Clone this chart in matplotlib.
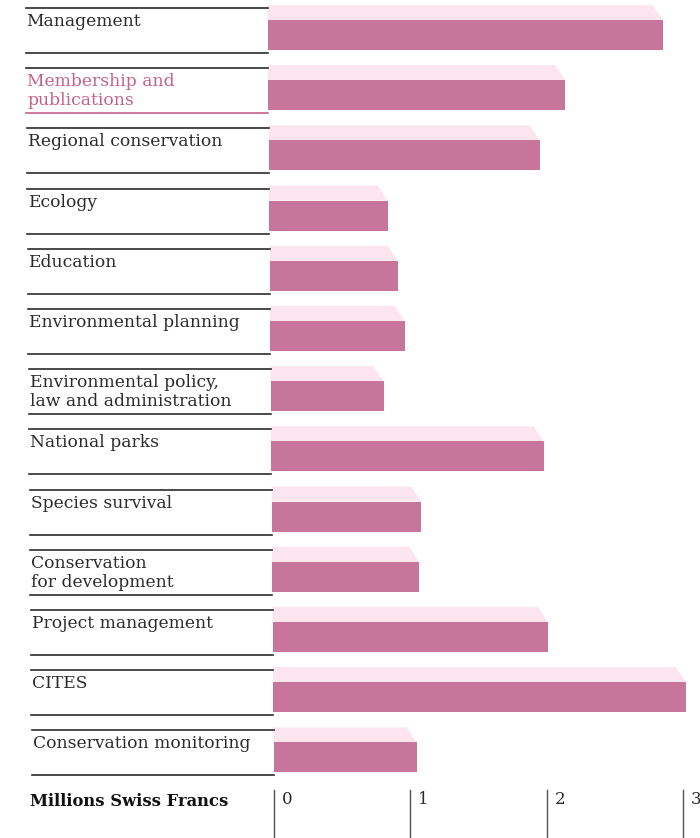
import matplotlib
matplotlib.use("Agg")
import matplotlib.pyplot as plt
from matplotlib.patches import Polygon

# IUCN programme budget by component
categories = [
    "Management",
    "Membership and\npublications",
    "Regional conservation",
    "Ecology",
    "Education",
    "Environmental planning",
    "Environmental policy,\nlaw and administration",
    "National parks",
    "Species survival",
    "Conservation\nfor development",
    "Project management",
    "CITES",
    "Conservation monitoring",
]
values = [2.90, 2.18, 1.99, 0.87, 0.94, 0.99, 0.83, 2.00, 1.10, 1.08, 2.02, 3.03, 1.05]
ticks = [0, 1, 2, 3]
highlight = "Membership and\npublications"

dark = "#c7759a"
light = "#fce5ee"
pink_text = "#c4628a"
ink = "#2b2b2b"

W, H = 700, 838
x0, scale = 274, 136.3        # pixel position of zero and pixels per million
px = 1.0 / scale
lean = 0.0083                 # the page sits slightly askew: x drifts with y

fig = plt.figure(figsize=(W / 100, H / 100), dpi=100)
ax = fig.add_axes([0, 0, 1, 1])
ax.set_xlim(-x0 / scale, (W - x0) / scale)
ax.set_ylim(H, 0)
ax.axis("off")

row_top = [8 + 60.2 * i for i in range(len(categories))]
offsets = [(t - 790) * lean * px for t in row_top]

# dark bars
centers = [t + 27 for t in row_top]
ax.barh(centers, values, height=30, left=offsets, color=dark, zorder=2)

for cat, v, t, off in zip(categories, values, row_top, offsets):
    # pale top face of each bar
    face = Polygon([(off, t + 12), (off + v, t + 12), (off + v - 10 * px, t - 3),
                    (off, t - 3)],
                   closed=True, facecolor=light, edgecolor="none", zorder=1)
    ax.add_patch(face)

    left = off + (25 - 267) * px
    col = pink_text if cat == highlight else ink
    ax.plot([left, off], [t, t], color=ink, lw=1.2, zorder=3)
    ax.plot([left, off], [t + 45, t + 45], color=col, lw=1.2, zorder=3)
    ax.text(left + 1 * px, t + 5, cat, ha="left", va="top", color=col,
            fontsize=12.3, family="DejaVu Serif", linespacing=1.15)

# value scale along the bottom
ax.text((30 - x0) * px, 801, "Millions Swiss Francs", ha="left", va="center",
        color="#111111", fontsize=11.8, family="DejaVu Serif", fontweight="bold")
for tk in ticks:
    ax.plot([tk, tk], [790, H], color="#555555", lw=1.0)
    ax.text(tk + 8 * px, 791, str(tk), ha="left", va="top", color=ink,
            fontsize=12, family="DejaVu Serif")

fig.savefig("out.png", dpi=100, facecolor="white")
